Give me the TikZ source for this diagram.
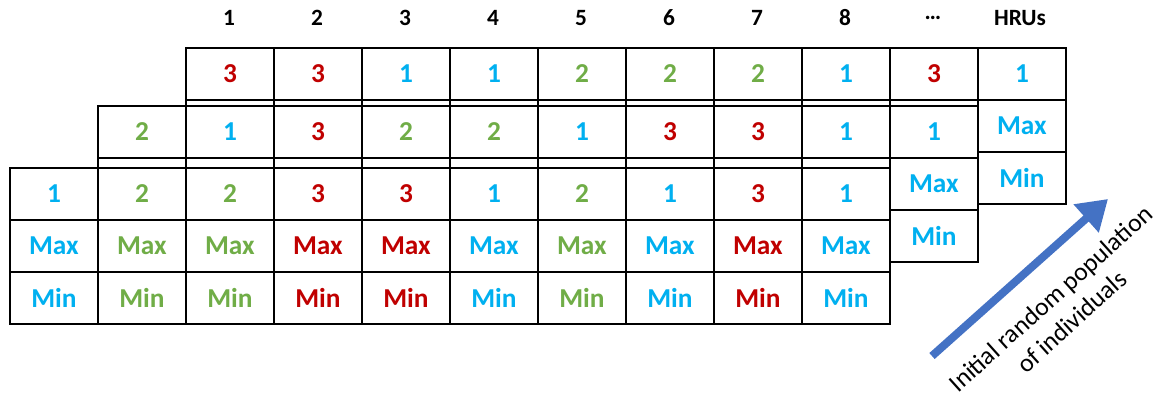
\documentclass[tikz,border=0pt]{standalone}
\usepackage{fontspec}
\setmainfont{Carlito}
\usetikzlibrary{arrows.meta}
\definecolor{cblue}{HTML}{00B0F0}
\definecolor{cgreen}{HTML}{70AD47}
\definecolor{cred}{HTML}{C00000}
\definecolor{carrow}{HTML}{4472C4}
\begin{document}
\begin{tikzpicture}[x=0.75pt,y=-0.75pt,
  cell/.style={draw=black, line width=1.4pt, fill=white, minimum width=66pt, minimum height=39pt,
    inner sep=0pt, anchor=north west, font=\fontsize{20.5}{24}\selectfont\bfseries},
  head/.style={font=\fontsize{17.5}{20}\selectfont\bfseries, inner sep=0pt},
  c1/.style={text=cblue}, c2/.style={text=cgreen}, c3/.style={text=cred},
  poparrow/.style={draw=carrow, line width=6pt, -{Triangle[length=22pt,width=27pt]}},
  note/.style={font=\fontsize{19.2}{23.5}\selectfont, align=center, rotate=42, inner sep=0pt}]
\useasboundingbox (0,0) rectangle (1161,400);
% column headers
\node[head] (h1) at (229,18) {1};
\node[head] (h2) at (317,18) {2};
\node[head] (h3) at (405,18) {3};
\node[head] (h4) at (493,18) {4};
\node[head] (h5) at (581,18) {5};
\node[head] (h6) at (669,18) {6};
\node[head] (h7) at (757,18) {7};
\node[head] (h8) at (845,18) {8};
\node[head] (h9) at (933,18) {\ldots};
\node[head] (h10) at (1020,18) {HRUs};
% back layer (rows 2-3 of columns 1-9 lie hidden behind the middle layer)
\foreach \d [count=\i] in {3,3,1,1,2,2,2,1,3} {
  \node[cell, c\d] (b-1-\i) at ({185+88*(\i-1)},47) {\d};
  \node[cell] (b-2-\i) at ({185+88*(\i-1)},99) {};
  \node[cell] (b-3-\i) at ({185+88*(\i-1)},151) {};
}
\node[cell, c1] (b-1-10) at (977,47) {1};
\node[cell, c1] (b-2-10) at (977,99) {Max};
\node[cell, c1] (b-3-10) at (977,151) {Min};
% middle layer (rows 2-3 of columns 1-9 lie hidden behind the front layer)
\foreach \d [count=\i] in {2,1,3,2,2,1,3,3,1} {
  \node[cell, c\d] (m-1-\i) at ({97+88*(\i-1)},105) {\d};
  \node[cell] (m-2-\i) at ({97+88*(\i-1)},157) {};
  \node[cell] (m-3-\i) at ({97+88*(\i-1)},209) {};
}
\node[cell, c1] (m-1-10) at (889,105) {1};
\node[cell, c1] (m-2-10) at (889,157) {Max};
\node[cell, c1] (m-3-10) at (889,209) {Min};
% front layer
\foreach \d [count=\i] in {1,2,2,3,3,1,2,1,3,1} {
  \node[cell, c\d] (f-1-\i) at ({9+88*(\i-1)},167) {\d};
  \node[cell, c\d] (f-2-\i) at ({9+88*(\i-1)},219) {Max};
  \node[cell, c\d] (f-3-\i) at ({9+88*(\i-1)},271) {Min};
}
% arrow and label
\coordinate (atail) at (932,356);
\coordinate (ahead) at (1108,199);
\draw[poparrow] (atail) -- (ahead);
\node[note] (lbl) at (1061,310) {Initial random population\\of individuals};
\end{tikzpicture}
\end{document}
